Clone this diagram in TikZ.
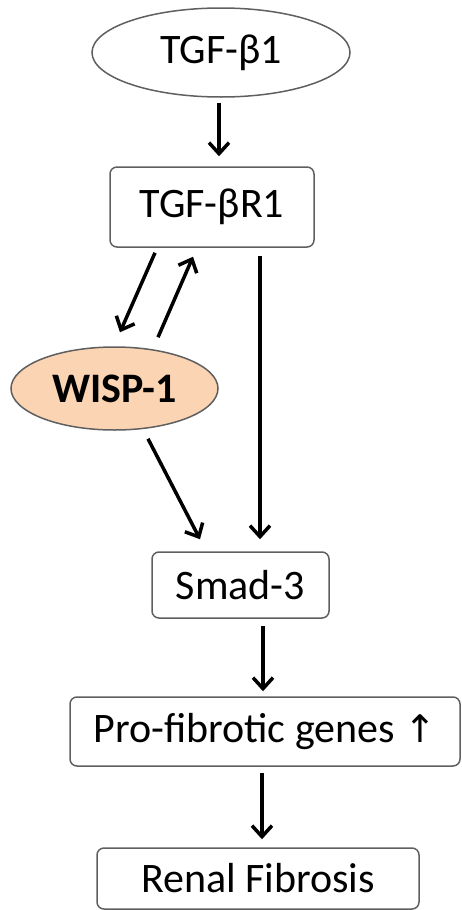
\documentclass[tikz,border=0pt]{standalone}
\usepackage{fontspec}
\setmainfont{Carlito}
\newfontfamily\symfont{DejaVu Sans}
\usetikzlibrary{arrows.meta,shapes.geometric}
\definecolor{peach}{HTML}{FBD4B4}
\definecolor{edgegray}{RGB}{95,95,95}
\begin{document}
\begin{tikzpicture}[x=1pt,y=-1pt,
  every node/.style={inner sep=0pt,font=\fontsize{42}{50}\selectfont},
  ell/.style={ellipse,draw=edgegray,line width=1.5pt},
  box/.style={rectangle,rounded corners=7pt,draw=edgegray,line width=1.5pt},
  arr/.style={draw=black,line width=3.5pt,-{Straight Barb[length=11pt,width=20pt]}}]
\useasboundingbox (0,0) rectangle (461,910);
\node[ell,minimum width=258pt,minimum height=89pt] (tgf) at (221,52.5) {TGF-β1};
\node[box,minimum width=204pt,minimum height=80pt] (r1) at (212,207) {TGF-βR1};
\node[ell,fill=peach,minimum width=207pt,minimum height=83pt,font=\fontsize{42}{50}\selectfont\bfseries] (wisp) at (114.5,388.5) {WISP-1};
\node[box,minimum width=177pt,minimum height=66pt] (smad) at (240.5,585) {Smad-3};
\node[box,minimum width=390pt,minimum height=69pt] (pro) at (265,731.5) {Pro-fibrotic genes {\symfont\fontsize{38}{46}\selectfont ↑}};
\node[box,minimum width=322pt,minimum height=61pt] (ren) at (258,878.5) {Renal Fibrosis};
\draw[arr] ([xshift=-2pt,yshift=-5pt]tgf.south) -- ([xshift=7pt,yshift=10pt]r1.north);
\draw[arr] ([xshift=-57pt,yshift=-5pt]r1.south) -- ([xshift=5.5pt,yshift=14pt]wisp.north);
\draw[arr] ([xshift=43.5pt,yshift=9pt]wisp.north) -- ([xshift=-19pt,yshift=-9pt]r1.south);
\draw[arr] ([xshift=48pt,yshift=-8pt]r1.south) -- ([xshift=19.5pt,yshift=12pt]smad.north);
\draw[arr] ([xshift=33.5pt,yshift=-8pt]wisp.south) -- ([xshift=-40.5pt,yshift=12pt]smad.north);
\draw[arr] ([xshift=22.5pt,yshift=-7pt]smad.south) -- ([xshift=-2pt,yshift=5pt]pro.north);
\draw[arr] ([xshift=-3pt,yshift=-6pt]pro.south) -- ([xshift=4pt,yshift=8pt]ren.north);
\end{tikzpicture}
\end{document}
